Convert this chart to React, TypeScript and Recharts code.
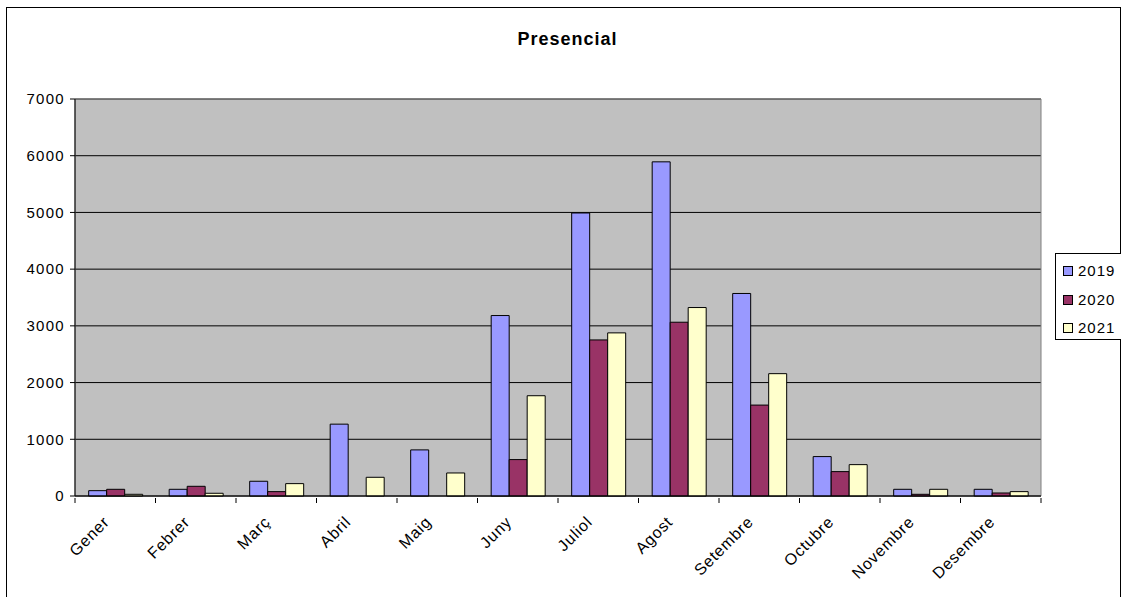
import React from "react";
import {
  BarChart,
  Bar,
  XAxis,
  YAxis,
  CartesianGrid,
  ReferenceArea,
} from "recharts";

const months = [
  "Gener",
  "Febrer",
  "Març",
  "Abril",
  "Maig",
  "Juny",
  "Juliol",
  "Agost",
  "Setembre",
  "Octubre",
  "Novembre",
  "Desembre",
];
const v2019 = [94, 118, 260, 1267, 813, 3182, 4990, 5892, 3571, 695, 118, 118];
const v2020 = [118, 171, 77, 0, 0, 642, 2752, 3064, 1603, 430, 30, 53];
const v2021 = [30, 48, 218, 330, 406, 1768, 2876, 3323, 2157, 553, 118, 77];
const yTicks = [0, 1000, 2000, 3000, 4000, 5000, 6000, 7000];

const series = [
  { key: "2019", color: "#9999FF" },
  { key: "2020", color: "#993366" },
  { key: "2021", color: "#FFFFCC" },
];

const data = months.map((m, i) => ({
  month: m,
  "2019": v2019[i],
  "2020": v2020[i],
  "2021": v2021[i],
}));

const FONT = "'Liberation Sans', Arial, sans-serif";
const BAND = 966 / 12;

// ticks sit between categories, label rotated under each one
const MonthTick = (props: any) => {
  const { x, y, payload, index } = props;
  const tx = x - 5;
  const ty = y + 19;
  return (
    <g>
      <line x1={x - BAND / 2} y1={y - 6} x2={x - BAND / 2} y2={y - 1} stroke="#000" />
      {index === months.length - 1 && (
        <line x1={x + BAND / 2} y1={y - 6} x2={x + BAND / 2} y2={y - 1} stroke="#000" />
      )}
      <text
        x={tx}
        y={ty}
        textAnchor="end"
        fontSize={16}
        letterSpacing={0.8}
        fontFamily={FONT}
        fill="#000"
        transform={`rotate(-45 ${tx} ${ty})`}
      >
        {payload.value}
      </text>
    </g>
  );
};

export default function App() {
  return (
    <div
      style={{
        position: "absolute",
        left: 6,
        top: 7,
        width: 1115,
        height: 592,
        border: "1px solid #000",
        boxSizing: "border-box",
        background: "#fff",
      }}
    >
      <div
        style={{
          position: "absolute",
          left: 0,
          width: 1121,
          top: 21,
          textAlign: "center",
          fontFamily: FONT,
          fontWeight: "bold",
          fontSize: 18,
          letterSpacing: 1,
        }}
      >
        Presencial
      </div>
      <BarChart
        width={1113}
        height={590}
        data={data}
        margin={{ top: 91, right: 79, bottom: 72, left: 7 }}
        barCategoryGap="17%"
        barGap={0}
      >
        <CartesianGrid vertical={false} stroke="#000" fill="#C0C0C0" fillOpacity={1} />
        <ReferenceArea y1={0} y2={7000} fill="none" stroke="#808080" ifOverflow="visible" />
        <XAxis
          dataKey="month"
          interval={0}
          height={30}
          tickLine={false}
          axisLine={{ stroke: "#000" }}
          tick={<MonthTick />}
        />
        <YAxis
          domain={[0, 7000]}
          ticks={yTicks}
          width={61}
          tickSize={5}
          tickMargin={5}
          tickLine={{ stroke: "#000" }}
          axisLine={{ stroke: "#000" }}
          tick={{ fill: "#000", fontSize: 15, fontFamily: FONT, letterSpacing: 1.3 }}
        />
        {series.map((s) => (
          <Bar
            key={s.key}
            dataKey={s.key}
            fill={s.color}
            stroke="#000"
            strokeWidth={1}
            isAnimationActive={false}
          />
        ))}
      </BarChart>
      <div
        style={{
          position: "absolute",
          left: 1048,
          top: 245,
          width: 70,
          height: 87,
          border: "1px solid #000",
          background: "#fff",
          boxSizing: "border-box",
          padding: "3px 0 0 7px",
          fontFamily: FONT,
          fontSize: 15,
          letterSpacing: 1,
          lineHeight: "28.5px",
        }}
      >
        {series.map((s) => (
          <div key={s.key} style={{ display: "flex", alignItems: "center" }}>
            <span
              style={{
                display: "inline-block",
                width: 8,
                height: 8,
                background: s.color,
                border: "1px solid #000",
                marginRight: 5,
              }}
            />
            {s.key}
          </div>
        ))}
      </div>
    </div>
  );
}
